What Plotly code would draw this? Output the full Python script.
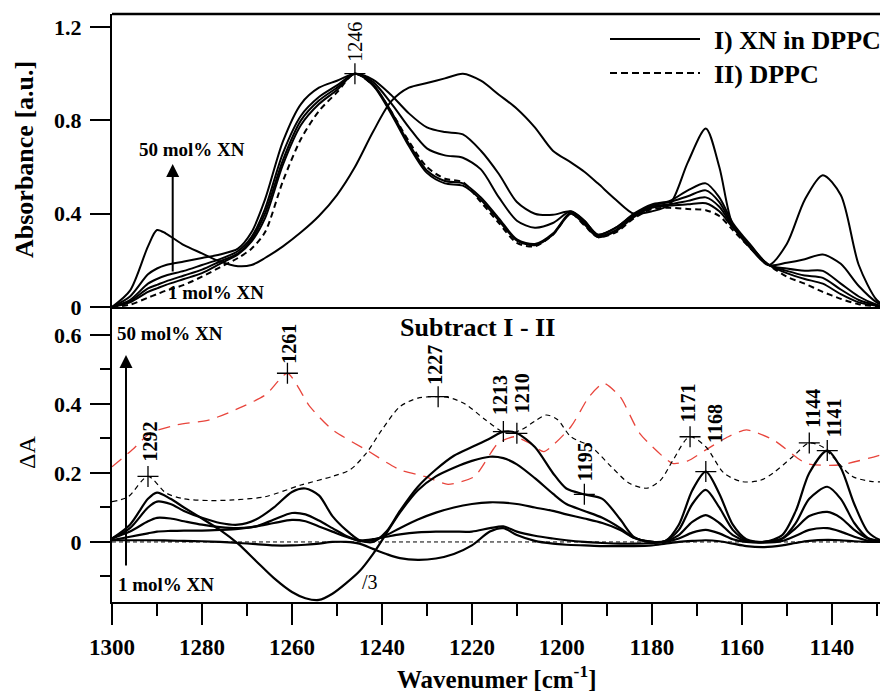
import plotly.graph_objects as go

# ---------------- data ----------------
top_wn = [1300, 1296, 1292, 1290, 1288, 1284, 1280, 1276, 1272, 1269, 1266, 1262, 1258, 1254, 1250,
          1246, 1242, 1238, 1234, 1230, 1226, 1222, 1218, 1214, 1210, 1206, 1202, 1198, 1195, 1192,
          1188, 1184, 1180, 1176, 1172, 1168, 1165, 1162, 1158, 1154, 1150, 1146, 1142, 1138, 1134,
          1130, 1127.5]

abs_xn50 = [0.0, 0.07, 0.26, 0.33, 0.315, 0.265, 0.23, 0.195, 0.175, 0.18, 0.21, 0.26, 0.32, 0.39, 0.48,
            0.60, 0.75, 0.88, 0.94, 0.96, 0.98, 1.0, 0.97, 0.91, 0.85, 0.77, 0.67, 0.62, 0.58, 0.53,
            0.46, 0.40, 0.41, 0.44, 0.62, 0.765, 0.60, 0.35, 0.25, 0.18, 0.27, 0.46, 0.565, 0.48, 0.18,
            0.03, 0.0]
abs_xn20 = [0.0, 0.045, 0.14, 0.165, 0.18, 0.195, 0.21, 0.225, 0.25, 0.32, 0.46, 0.71, 0.87, 0.94, 0.97,
            1.0, 0.975, 0.91, 0.83, 0.77, 0.75, 0.74, 0.67, 0.57, 0.45, 0.40, 0.395, 0.41, 0.37, 0.31,
            0.34, 0.40, 0.44, 0.455, 0.50, 0.53, 0.47, 0.36, 0.265, 0.18, 0.19, 0.205, 0.225, 0.185, 0.09,
            0.02, 0.0]
abs_xn10 = [0.0, 0.03, 0.10, 0.12, 0.135, 0.155, 0.18, 0.205, 0.24, 0.30, 0.42, 0.66, 0.82, 0.90, 0.95,
            1.0, 0.965, 0.875, 0.77, 0.68, 0.65, 0.64, 0.59, 0.47, 0.37, 0.34, 0.36, 0.41, 0.37, 0.31,
            0.34, 0.395, 0.435, 0.45, 0.475, 0.50, 0.45, 0.35, 0.26, 0.18, 0.165, 0.155, 0.155, 0.10, 0.045,
            0.01, 0.0]
abs_xn5 = [0.0, 0.025, 0.08, 0.095, 0.11, 0.135, 0.16, 0.195, 0.23, 0.29, 0.40, 0.63, 0.80, 0.885, 0.94,
           1.0, 0.955, 0.84, 0.70, 0.585, 0.54, 0.53, 0.47, 0.38, 0.29, 0.27, 0.315, 0.405, 0.36, 0.305,
           0.33, 0.39, 0.43, 0.44, 0.455, 0.47, 0.43, 0.345, 0.26, 0.18, 0.155, 0.135, 0.125, 0.075, 0.03,
           0.008, 0.0]
abs_xn1 = [0.0, 0.02, 0.065, 0.08, 0.095, 0.12, 0.145, 0.185, 0.225, 0.28, 0.38, 0.61, 0.78, 0.87, 0.93,
           1.0, 0.95, 0.83, 0.69, 0.575, 0.53, 0.52, 0.46, 0.37, 0.285, 0.265, 0.31, 0.40, 0.355, 0.30,
           0.325, 0.385, 0.425, 0.435, 0.44, 0.445, 0.41, 0.34, 0.255, 0.18, 0.145, 0.12, 0.10, 0.055, 0.02,
           0.005, 0.0]
abs_dppc = [0.0, 0.01, 0.04, 0.055, 0.07, 0.095, 0.13, 0.17, 0.21, 0.25, 0.32, 0.54, 0.72, 0.84, 0.92,
            1.0, 0.95, 0.84, 0.71, 0.60, 0.55, 0.535, 0.45, 0.36, 0.275, 0.26, 0.31, 0.40, 0.35, 0.30,
            0.32, 0.38, 0.42, 0.425, 0.42, 0.415, 0.39, 0.33, 0.25, 0.18, 0.13, 0.10, 0.065, 0.035, 0.012,
            0.003, 0.0]

bot_wn = [1300, 1296, 1292, 1290, 1287, 1284, 1280, 1276, 1272, 1268, 1264, 1260, 1257, 1254, 1251,
          1248, 1245, 1242, 1239, 1236, 1232, 1228, 1224, 1220, 1216, 1213, 1210, 1206, 1202, 1199,
          1195, 1191, 1187, 1184, 1180, 1177, 1174, 1171, 1168, 1165, 1162, 1159, 1155, 1151, 1148,
          1145, 1141, 1138, 1135, 1132, 1129, 1127.5]

diff_xn50_div3 = [0.01, 0.05, 0.125, 0.143, 0.125, 0.10, 0.068, 0.035, -0.005, -0.055, -0.105, -0.145, -0.163, -0.168, -0.15,
                  -0.12, -0.085, -0.035, 0.025, 0.085, 0.15, 0.19, 0.215, 0.235, 0.247, 0.243, 0.225, 0.185, 0.14, 0.11,
                  0.09, 0.07, 0.04, 0.012, 0.0, 0.003, 0.035, 0.11, 0.151, 0.10, 0.035, 0.005, 0.0, 0.01, 0.055,
                  0.125, 0.16, 0.125, 0.055, 0.012, 0.002, 0.0]
diff_xn20 = [0.01, 0.04, 0.10, 0.117, 0.11, 0.09, 0.07, 0.055, 0.05, 0.065, 0.10, 0.145, 0.155, 0.135, 0.075,
             0.035, 0.005, 0.0, 0.03, 0.09, 0.16, 0.21, 0.25, 0.275, 0.30, 0.32, 0.315, 0.275, 0.20, 0.155,
             0.138, 0.125, 0.065, 0.015, 0.0, 0.003, 0.05, 0.15, 0.204, 0.14, 0.05, 0.008, 0.0, 0.02, 0.09,
             0.20, 0.265, 0.215, 0.11, 0.03, 0.004, 0.0]
diff_xn10 = [0.01, 0.03, 0.06, 0.07, 0.068, 0.06, 0.05, 0.043, 0.04, 0.045, 0.065, 0.084, 0.08, 0.062, 0.04,
             0.018, 0.003, 0.005, 0.02, 0.04, 0.065, 0.085, 0.10, 0.11, 0.115, 0.114, 0.11, 0.10, 0.09, 0.08,
             0.068, 0.055, 0.035, 0.012, 0.0, 0.002, 0.02, 0.058, 0.078, 0.055, 0.02, 0.003, 0.0, 0.01, 0.04,
             0.075, 0.087, 0.07, 0.035, 0.01, 0.002, 0.0]
diff_xn5 = [0.005, 0.015, 0.025, 0.03, 0.032, 0.033, 0.033, 0.035, 0.038, 0.045, 0.055, 0.064, 0.06, 0.045, 0.03,
            0.015, 0.005, 0.008, 0.015, 0.022, 0.028, 0.03, 0.03, 0.03, 0.04, 0.045, 0.03, 0.018, 0.01, 0.005,
            0.0, -0.003, -0.005, -0.005, -0.003, 0.0, 0.01, 0.027, 0.035, 0.025, 0.008, 0.0, -0.002, 0.003, 0.018,
            0.035, 0.04, 0.03, 0.015, 0.004, 0.0, 0.0]
diff_xn1 = [0.005, 0.005, 0.005, 0.005, 0.004, 0.003, 0.002, 0.0, -0.003, -0.006, -0.01, -0.01, -0.008, -0.005, 0.0,
            0.0, -0.005, -0.02, -0.035, -0.047, -0.052, -0.048, -0.035, -0.01, 0.03, 0.04, 0.02, 0.003, -0.005, -0.008,
            -0.01, -0.012, -0.012, -0.012, -0.01, -0.005, 0.0, 0.003, 0.005, 0.002, -0.005, -0.012, -0.015, -0.01, -0.003,
            0.003, 0.006, 0.005, 0.002, 0.0, 0.0, 0.0]

ref_black_wn = [1300, 1296.5, 1292, 1288, 1284, 1278, 1273, 1266, 1258, 1251, 1247, 1243.5, 1240, 1236, 1232,
                1228, 1225, 1221.5, 1217, 1213, 1211.5, 1209, 1206, 1203.5, 1201, 1198, 1193.5, 1189, 1185, 1181,
                1178, 1175.3, 1171.6, 1168, 1164, 1160, 1156, 1153, 1148.7, 1145, 1142, 1139.8, 1135.4, 1131, 1127.5]
ref_black_dA = [0.117, 0.13, 0.19, 0.142, 0.125, 0.12, 0.122, 0.131, 0.165, 0.19, 0.21, 0.257, 0.325, 0.392, 0.417,
                0.421, 0.418, 0.40, 0.354, 0.318, 0.315, 0.325, 0.35, 0.368, 0.355, 0.305, 0.276, 0.218, 0.17, 0.156,
                0.18, 0.237, 0.305, 0.276, 0.20, 0.175, 0.178, 0.20, 0.247, 0.287, 0.275, 0.247, 0.19, 0.175, 0.175]

ref_red_wn = [1300, 1295.5, 1291.5, 1285.7, 1278.3, 1271, 1265.7, 1261, 1256, 1251, 1243.5, 1236, 1230.5, 1225.3,
              1219.4, 1214.2, 1210.5, 1207, 1204, 1198, 1194, 1190.7, 1187, 1182.7, 1175.4, 1172, 1168, 1163,
              1159, 1153, 1145.7, 1138.3, 1127.9]
ref_red_dA = [0.218, 0.267, 0.316, 0.339, 0.354, 0.392, 0.428, 0.489, 0.392, 0.325, 0.267, 0.209, 0.19, 0.167,
              0.19, 0.286, 0.305, 0.285, 0.262, 0.334, 0.42, 0.46, 0.42, 0.315, 0.228, 0.235, 0.267, 0.305,
              0.325, 0.296, 0.228, 0.223, 0.257]

top_peak_wn = [1246]
top_peak_abs = [1.0]
top_peak_labels = ["1246"]

bot_peak_wn = [1292, 1261, 1227.5, 1213, 1210, 1195, 1171.5, 1168, 1145, 1141]
bot_peak_dA = [0.19, 0.489, 0.421, 0.32, 0.315, 0.138, 0.305, 0.204, 0.287, 0.265]
bot_peak_labels = ["1292", "1261", "1227", "1213", "1210", "1195", "1171", "1168", "1144", "1141"]

x_ticks = [1300, 1280, 1260, 1240, 1220, 1200, 1180, 1160, 1140]
x_minor = [1290, 1270, 1250, 1230, 1210, 1190, 1170, 1150, 1130]
top_y_ticks = [0, 0.4, 0.8, 1.2]
bot_y_ticks = [0, 0.2, 0.4, 0.6]
bot_y_minor = [-0.1, 0.1, 0.3, 0.5]

# ---------------- figure ----------------
FONT = "Liberation Serif"
# the page body has an 8px default margin, so the figure is 8px smaller and shifted
W, H = 880, 685
L, R, T, B = 104, 0, 6, 91
PW, PH = W - L - R, H - T - B
split = (602 - 307) / PH


def px(xp):  # page pixel -> paper x
    return (xp - 112) / PW


def py(yp):  # page pixel -> paper y
    return (602 - yp) / PH


fig = go.Figure()

solid_top = dict(color="black", width=2, shape="spline", smoothing=0.8)
for ys in [abs_xn50, abs_xn20, abs_xn10, abs_xn5, abs_xn1]:
    fig.add_trace(go.Scatter(x=top_wn, y=ys, mode="lines", line=solid_top,
                             xaxis="x", yaxis="y", showlegend=False, hoverinfo="skip"))
fig.add_trace(go.Scatter(x=top_wn, y=abs_dppc, mode="lines",
                         line=dict(color="black", width=2, dash="6px,4px", shape="spline", smoothing=0.8),
                         xaxis="x", yaxis="y", showlegend=False, hoverinfo="skip"))

# bottom panel
fig.add_trace(go.Scatter(x=ref_red_wn, y=ref_red_dA, mode="lines",
                         line=dict(color="#e8453c", width=1.3, dash="12px,8px", shape="spline", smoothing=0.6),
                         xaxis="x2", yaxis="y2", showlegend=False, hoverinfo="skip"))
fig.add_trace(go.Scatter(x=ref_black_wn, y=ref_black_dA, mode="lines",
                         line=dict(color="black", width=1.2, dash="5px,4px", shape="spline", smoothing=0.8),
                         xaxis="x2", yaxis="y2", showlegend=False, hoverinfo="skip"))
solid_bot = dict(color="black", width=2.2, shape="spline", smoothing=0.8)
for ys in [diff_xn50_div3, diff_xn20, diff_xn10, diff_xn5, diff_xn1]:
    fig.add_trace(go.Scatter(x=bot_wn, y=ys, mode="lines", line=solid_bot,
                             xaxis="x2", yaxis="y2", showlegend=False, hoverinfo="skip"))

cross = dict(symbol="cross-thin", size=15, color="black", line=dict(color="black", width=1.3))
fig.add_trace(go.Scatter(x=top_peak_wn, y=top_peak_abs, mode="markers", marker=cross,
                         xaxis="x", yaxis="y", showlegend=False, hoverinfo="skip"))
fig.add_trace(go.Scatter(x=bot_peak_wn, y=bot_peak_dA, mode="markers", marker=cross,
                         xaxis="x2", yaxis="y2", showlegend=False, hoverinfo="skip"))

# zero reference line
fig.add_shape(type="line", xref="x2 domain", yref="y2", x0=0, x1=1, y0=0, y1=0,
              line=dict(color="black", width=1, dash="4px,3px"))
# top border
fig.add_shape(type="line", xref="paper", yref="paper", x0=0, x1=1, y0=1, y1=1,
              line=dict(color="black", width=2.5))
# legend samples
fig.add_shape(type="line", xref="paper", yref="paper", x0=px(610), x1=px(700), y0=py(39), y1=py(39),
              line=dict(color="black", width=2))
fig.add_shape(type="line", xref="paper", yref="paper", x0=px(610), x1=px(700), y0=py(73), y1=py(73),
              line=dict(color="black", width=2, dash="7px,4px"))

ann = []


def txt(text, x, y, size, weight="bold", xanchor="center", angle=0):
    ann.append(dict(text=text, x=px(x), y=py(y), xref="paper", yref="paper", showarrow=False,
                    xanchor=xanchor, yanchor="middle", textangle=angle,
                    font=dict(family=FONT, size=size, color="black", weight=weight)))


txt("I) XN in DPPC", 712, 40, 26, xanchor="left")
txt("II) DPPC", 712, 75, 26, xanchor="left")
txt("50 mol% XN", 192, 149, 19)
txt("1 mol% XN", 216, 292, 19)
txt("50 mol% XN", 170, 333, 19)
txt("1 mol% XN", 166, 584, 19)
txt("Subtract I - II", 477, 327, 26)
txt("/3", 370, 582, 20, weight="normal")
txt("Absorbance [a.u.]", 24, 160, 26, angle=-90)
txt("ΔA", 27, 453, 24, weight="normal", angle=-90)
txt("Wavenumer [cm<sup>-1</sup>]", 497, 677, 25)

# arrows
for (xt, yt, length) in [(172.7, 164, 109), (126, 355, 212)]:
    ann.append(dict(text="", x=px(xt), y=py(yt), xref="paper", yref="paper", showarrow=True,
                    ax=0, ay=length, axref="pixel", ayref="pixel", arrowhead=2, arrowsize=1.3,
                    arrowwidth=2, arrowcolor="black"))

# peak labels
for w, v, lab in zip(top_peak_wn, top_peak_abs, top_peak_labels):
    ann.append(dict(text=lab, x=w, y=v, xref="x", yref="y", showarrow=False, textangle=-90,
                    xanchor="center", yanchor="bottom", yshift=10,
                    font=dict(family=FONT, size=20, color="black")))
yshifts = [13, 8, 10, 15, 18, 11, 12, 27, 13, 11]
xshifts = [2, 2, -3, -4, 5, 0, -2, 9, 4, 7]
for w, v, lab, ys, xs in zip(bot_peak_wn, bot_peak_dA, bot_peak_labels, yshifts, xshifts):
    ann.append(dict(text=lab, x=w, y=v, xref="x2", yref="y2", showarrow=False, textangle=-90,
                    xanchor="center", yanchor="bottom", yshift=ys, xshift=xs,
                    font=dict(family=FONT, size=20, color="black", weight="bold")))

tickfont = dict(family=FONT, size=22, color="black", weight="bold")
axis_common = dict(showgrid=False, zeroline=False, showline=True, linecolor="black", linewidth=2)

fig.update_layout(
    width=W, height=H, margin=dict(l=L, r=R, t=T, b=B, pad=0),
    paper_bgcolor="white", plot_bgcolor="white", showlegend=False,
    annotations=ann,
    xaxis=dict(domain=[0, 1], range=[1300, 1127.5], anchor="y", showticklabels=False, ticks="",
               **axis_common),
    yaxis=dict(domain=[split, 1], range=[0, 1.256], anchor="x", tickvals=top_y_ticks,
               ticktext=["0", "0.4", "0.8", "1.2"], ticks="outside", ticklen=20, tickwidth=2,
               tickcolor="black", tickfont=tickfont, ticklabelstandoff=4, **axis_common),
    xaxis2=dict(domain=[0, 1], range=[1300, 1127.5], anchor="y2", tickvals=x_ticks,
                ticktext=[str(t) for t in x_ticks], ticks="outside", ticklen=21, tickwidth=2,
                tickcolor="black", tickfont=dict(family=FONT, size=23, color="black", weight="bold"),
                ticklabelstandoff=2,
                minor=dict(tickvals=x_minor, ticks="outside", ticklen=12, tickwidth=2, tickcolor="black"),
                **axis_common),
    yaxis2=dict(domain=[0, split], range=[-0.174, 0.681], anchor="x2", tickvals=bot_y_ticks,
                ticktext=["0", "0.2", "0.4", "0.6"], ticks="outside", ticklen=20, tickwidth=2,
                tickcolor="black", tickfont=tickfont, ticklabelstandoff=4,
                minor=dict(tickvals=bot_y_minor, ticks="outside", ticklen=10, tickwidth=2, tickcolor="black"),
                **axis_common),
)

fig.write_html("out.html")
